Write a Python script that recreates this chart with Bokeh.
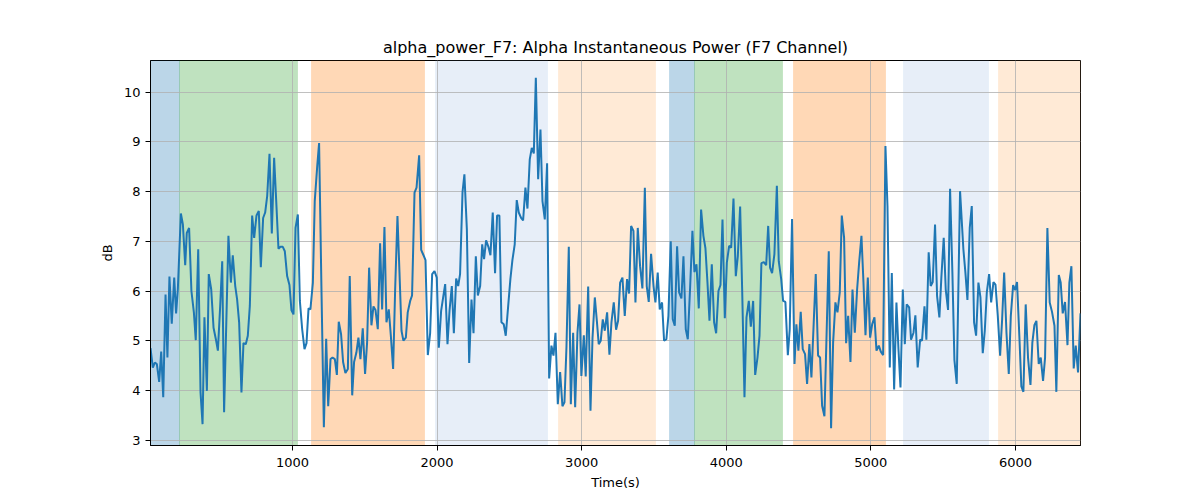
from bokeh.plotting import figure
from bokeh.models import ColumnDataSource, Range1d, FixedTicker
from bokeh.embed import file_html
from bokeh.resources import INLINE

# ---- data -------------------------------------------------------------
time_s = [
    18, 34, 48, 62, 78, 92, 106, 122, 135, 149, 165, 182, 195, 207, 228, 242, 258, 269, 285, 301,
    318, 331, 348, 364, 378, 391, 408, 421, 438, 454, 470, 484, 500, 514, 527, 544, 557, 574, 587, 604,
    617, 631, 647, 661, 677, 691, 705, 721, 735, 751, 767, 781, 797, 811, 825, 841, 857, 873, 887, 903,
    917, 933, 947, 963, 979, 993, 1007, 1021, 1037, 1051, 1067, 1083,
    1097, 1111, 1124, 1141, 1154, 1171, 1184, 1200, 1217, 1233, 1247, 1263, 1277, 1293, 1307, 1320, 1336, 1350,
    1366, 1383, 1396, 1413, 1426, 1442, 1456, 1470, 1486, 1502, 1516, 1530, 1546, 1560, 1574, 1590, 1606, 1620,
    1636, 1650, 1666, 1680, 1696, 1710, 1726, 1740, 1754, 1767, 1784, 1797, 1814, 1827, 1844, 1858, 1876, 1890,
    1906, 1920, 1936, 1952, 1966, 1982, 1998, 2012, 2028, 2042, 2056, 2072, 2086, 2102, 2116,
    2132, 2146, 2159, 2176, 2189, 2206, 2222, 2238, 2252, 2268, 2282, 2298, 2312, 2325, 2339, 2355, 2369, 2385,
    2401, 2415, 2431, 2445, 2461, 2475, 2491, 2507, 2521, 2537, 2551, 2565, 2581, 2595, 2611, 2625, 2641, 2655,
    2669, 2683, 2699, 2715, 2729, 2745, 2761, 2775, 2791, 2805, 2819, 2835, 2851, 2867, 2881, 2895, 2911, 2925,
    2941, 2955, 2971, 2985, 2998, 3015, 3028, 3045, 3061, 3075, 3091,
    3105, 3118, 3132, 3146, 3160, 3176, 3192, 3206, 3222, 3238, 3252, 3266, 3282, 3298, 3314, 3328, 3342, 3358,
    3372, 3388, 3404, 3420, 3437, 3450, 3464, 3480, 3497, 3510, 3526, 3540, 3556, 3570, 3586, 3600, 3616, 3630,
    3644, 3660, 3674, 3690, 3704, 3720, 3734, 3750, 3766, 3780, 3794, 3810, 3826, 3842, 3856, 3870, 3884, 3900,
    3916, 3930, 3946, 3960, 3974, 3990, 4004, 4020, 4034, 4050, 4066, 4080, 4096, 4110, 4126, 4140, 4156, 4170,
    4186, 4200,
    4216, 4230, 4243, 4260, 4276, 4290, 4303, 4317, 4333, 4350, 4363, 4380, 4393, 4409, 4426, 4439, 4455, 4472,
    4485, 4499, 4515, 4529, 4545, 4559, 4575, 4589, 4605, 4619, 4635, 4649, 4663, 4679, 4693, 4709, 4725, 4739,
    4755, 4769, 4785, 4799, 4815, 4829, 4843, 4859, 4873, 4889, 4905, 4919, 4935, 4949, 4963, 4979, 4995, 5009,
    5025, 5039, 5055, 5069, 5085, 5101, 5115, 5131, 5145, 5161, 5177, 5191, 5205, 5221, 5235,
    5248, 5265, 5278, 5295, 5308, 5324, 5341, 5354, 5371, 5384, 5400, 5414, 5428, 5444, 5458, 5474, 5488, 5504,
    5518, 5534, 5548, 5564, 5578, 5594, 5617, 5640, 5654, 5668, 5684, 5698, 5714, 5728, 5744, 5758, 5774, 5788,
    5802, 5818, 5832, 5848, 5862, 5878, 5894, 5908, 5922, 5938, 5954, 5968, 5984, 5998, 6011, 6028, 6041, 6055,
    6071, 6087, 6104, 6117, 6131, 6145, 6161, 6175, 6191, 6205, 6221, 6237, 6253, 6270, 6283, 6300, 6313, 6327,
    6343, 6360, 6373, 6387, 6403, 6417, 6433, 6450,
]

alpha_db = [
    4.85, 4.46, 4.56, 4.53, 4.17, 4.78, 3.86, 5.93, 4.66, 6.29, 5.34, 6.27, 5.55, 6.03, 7.56, 7.34, 6.52, 7.17, 7.27, 6.00,
    5.57, 5.01, 6.84, 3.96, 3.32, 5.47, 3.99, 6.34, 6.03, 5.26, 5.03, 4.80, 5.70, 6.60, 3.56, 5.57, 7.11, 6.17, 6.72, 6.10,
    5.83, 5.37, 3.96, 4.95, 4.93, 5.10, 5.70, 7.52, 7.07, 7.52, 7.61, 6.48, 7.47, 7.58, 7.91, 8.76, 7.16, 8.68, 7.84, 6.85,
    6.89, 6.89, 6.80, 6.30, 6.12, 5.61, 5.53, 7.27, 7.54, 5.80, 5.23, 4.83,
    4.95, 5.65, 5.63, 6.17, 7.81, 8.51, 8.98, 6.10, 3.26, 5.04, 3.68, 4.63, 4.66, 4.63, 4.31, 5.38, 5.13, 4.57,
    4.35, 4.43, 6.30, 3.90, 4.57, 4.76, 5.06, 4.63, 5.25, 4.33, 4.96, 6.47, 5.31, 5.69, 5.62, 5.23, 6.96, 5.63,
    7.29, 5.37, 5.63, 5.11, 4.43, 6.03, 7.51, 6.37, 5.20, 5.00, 5.06, 5.57, 5.80, 5.91, 7.98, 8.08, 8.73, 6.83,
    6.72, 6.62, 4.71, 5.15, 6.34, 6.40, 6.27, 4.86, 5.60, 5.87, 6.14, 4.93, 5.60, 6.10, 5.15,
    6.25, 6.10, 6.34, 7.99, 8.35, 7.24, 4.55, 5.83, 5.15, 6.70, 5.91, 6.10, 6.94, 6.64, 7.02, 6.89, 6.72, 7.58,
    6.36, 7.52, 7.52, 5.37, 5.33, 5.10, 5.67, 6.24, 6.62, 6.94, 7.83, 7.58, 7.47, 7.42, 8.08, 7.66, 8.65, 8.88,
    8.77, 10.29, 8.25, 9.25, 7.81, 7.44, 8.57, 4.24, 4.90, 4.70, 5.16, 3.72, 4.37, 3.68, 3.76, 4.88, 6.89, 3.72,
    5.16, 3.66, 5.16, 5.73, 4.29, 5.11, 4.28, 6.09, 3.59, 5.06, 5.87,
    5.40, 4.93, 5.00, 5.43, 5.20, 5.57, 4.72, 5.37, 5.77, 5.22, 5.40, 6.17, 6.27, 5.50, 6.24, 5.95, 7.31, 7.21,
    5.77, 7.27, 6.50, 6.05, 8.08, 6.10, 5.78, 6.75, 6.10, 5.77, 6.37, 5.63, 5.77, 5.00, 5.03, 5.50, 7.00, 5.43,
    5.30, 6.90, 5.97, 5.85, 6.70, 5.23, 5.03, 6.07, 7.21, 6.38, 6.54, 5.65, 7.64, 7.11, 6.86, 6.17, 5.40, 6.54,
    5.37, 5.15, 6.00, 6.12, 7.44, 5.45, 6.57, 6.91, 6.87, 7.86, 6.30, 6.70, 7.70, 6.03, 3.86, 5.47, 5.80, 5.28,
    5.80, 4.31,
    4.66, 5.10, 6.56, 6.58, 6.52, 7.31, 6.47, 6.36, 6.74, 8.12, 6.60, 6.24, 5.80, 5.78, 4.71, 5.23, 7.45, 4.53,
    5.33, 4.80, 5.58, 4.83, 4.73, 4.13, 4.93, 4.26, 5.37, 6.34, 4.70, 4.66, 3.69, 3.48, 5.03, 6.80, 3.24, 4.96,
    5.77, 5.57, 5.97, 7.52, 7.07, 4.95, 5.50, 4.57, 6.03, 5.16, 6.03, 6.57, 7.11, 6.17, 5.11, 6.27, 5.06, 5.33,
    5.47, 4.80, 4.90, 4.78, 4.71, 8.92, 7.71, 4.46, 6.36, 4.02, 5.77, 4.83, 4.06, 6.03, 4.93,
    5.73, 5.67, 5.02, 5.16, 5.51, 4.46, 5.02, 5.00, 5.69, 5.02, 6.78, 6.10, 6.18, 7.34, 5.90, 5.47, 6.29, 7.07,
    6.03, 5.62, 8.06, 6.37, 4.61, 4.13, 8.01, 6.84, 6.37, 5.82, 7.27, 7.71, 5.37, 5.10, 6.17, 5.87, 4.75, 5.20,
    5.97, 6.34, 5.77, 6.18, 6.13, 5.50, 4.70, 5.43, 6.37, 5.16, 4.33, 5.50, 6.12, 6.02, 6.18, 5.03, 4.08, 3.97,
    5.73, 4.66, 4.11, 4.96, 5.31, 5.40, 4.53, 4.66, 4.19, 4.66, 7.27, 5.77, 5.58, 5.30, 3.97, 6.32, 6.17, 5.55,
    5.78, 4.91, 6.17, 6.50, 4.44, 4.90, 4.36, 5.55,
]

region_start = [18, 216, 1131, 1990, 2842, 3607, 3780, 4467, 5225, 5882]
region_end = [216, 1037, 1911, 2761, 3510, 3780, 4386, 5099, 5811, 6450]
region_color = ["#1f77b4", "#2ca02c", "#ff7f0e", "#aec7e8", "#ffbb78",
                "#1f77b4", "#2ca02c", "#ff7f0e", "#aec7e8", "#ffbb78"]

x_ticks = [1000, 2000, 3000, 4000, 5000, 6000]
y_ticks = [3, 4, 5, 6, 7, 8, 9, 10]

TITLE = "alpha_power_F7: Alpha Instantaneous Power (F7 Channel)"
X_LABEL = "Time(s)"
Y_LABEL = "dB"

# ---- figure -----------------------------------------------------------
FONT = "DejaVu Sans"

p = figure(
    width=1192, height=492,
    output_backend="svg", toolbar_location=None,
    x_range=Range1d(18, 6450), y_range=Range1d(2.89, 10.64),
    title=TITLE,
    min_border_left=150, min_border_right=112,
    min_border_top=60, min_border_bottom=47,
)
p.background_fill_color = "white"
p.border_fill_color = "white"
p.outline_line_color = "black"
p.outline_line_width = 1

p.title.align = "center"
p.title.text_font = FONT
p.title.text_font_size = "16px"
p.title.text_font_style = "normal"
p.title.text_color = "black"
p.title.standoff = 8

regions = ColumnDataSource(dict(x0=region_start, x1=region_end, color=region_color))
strips = p.vstrip(x0="x0", x1="x1", source=regions,
                  fill_color="color", fill_alpha=0.3,
                  line_color="color", line_alpha=0.15, line_width=1)
strips.level = "image"

series = ColumnDataSource(dict(t=time_s, v=alpha_db))
p.line("t", "v", source=series, line_color="#1f77b4", line_width=2)

for ax in (p.xaxis, p.yaxis):
    ax.axis_line_color = "black"
    ax.major_tick_line_color = "black"
    ax.major_tick_out = 5
    ax.major_tick_in = 0
    ax.minor_tick_line_color = None
    ax.major_label_text_font = FONT
    ax.major_label_text_font_size = "13px"
    ax.major_label_text_color = "black"
    ax.major_label_standoff = 5
    ax.axis_label_text_font = FONT
    ax.axis_label_text_font_size = "13px"
    ax.axis_label_text_font_style = "normal"
    ax.axis_label_text_color = "black"
    ax.axis_label_standoff = 6

p.xaxis.major_label_standoff = 7
p.xaxis.axis_label_standoff = 5

p.xaxis.ticker = FixedTicker(ticks=x_ticks)
p.yaxis.ticker = FixedTicker(ticks=y_ticks)
p.xaxis.axis_label = X_LABEL
p.yaxis.axis_label = Y_LABEL

p.grid.grid_line_color = "#b0b0b0"
p.grid.grid_line_width = 0.8

open("out.html", "w").write(file_html(p, INLINE))
